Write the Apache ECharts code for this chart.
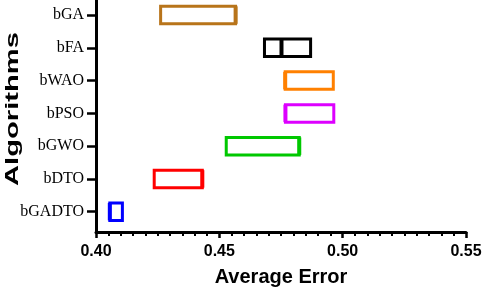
<!DOCTYPE html>
<html>
<head>
<meta charset="utf-8">
<script src="https://cdn.jsdelivr.net/npm/echarts@6/dist/echarts.min.js"></script>
<style>
html,body{margin:0;padding:0;background:#fff;}
#chart{width:484px;height:290px;}
</style>
</head>
<body>
<div id="chart"></div>
<script>
// Data (top to bottom)
const categories = ['bGA', 'bFA', 'bWAO', 'bPSO', 'bGWO', 'bDTO', 'bGADTO'];
const q1Values     = [0.4262, 0.4683, 0.4767, 0.4768, 0.4528, 0.4236, 0.4056];
const medianValues = [0.4566, 0.4752, 0.4767, 0.4768, 0.4824, 0.4431, 0.4056];
const q3Values     = [0.4566, 0.4870, 0.4962, 0.4964, 0.4824, 0.4431, 0.4107];
const boxColors = ['#B8741A', '#000000', '#FF8000', '#DD00FF', '#00C800', '#FF0000', '#0000FF'];
const xMin = 0.40, xMax = 0.55, xStep = 0.05;
const xTitle = 'Average Error';
const yTitle = 'Algorithms';

const catIndex = categories.map((c, i) => i);
const seriesData = categories.map((c, i) => [i, q1Values[i], medianValues[i], q3Values[i]]);

const chart = echarts.init(document.getElementById('chart'), null, {renderer: 'canvas'});
const sans = '"Liberation Sans", Arial, sans-serif';
const serif = '"Liberation Serif", "Times New Roman", serif';

chart.setOption({
  animation: false,
  backgroundColor: '#ffffff',
  grid: {left: 96, right: 18, top: 0, bottom: 58, containLabel: false, outerBoundsMode: 'none'},
  xAxis: {
    type: 'value',
    min: xMin, max: xMax, interval: xStep,
    name: xTitle,
    nameLocation: 'middle',
    nameGap: 35,
    nameMoveOverlap: false,
    nameTextStyle: {fontFamily: sans, fontWeight: 'bold', fontSize: 20, color: '#000'},
    axisLine: {show: true, onZero: false, lineStyle: {color: '#000', width: 3}},
    axisTick: {show: true, length: 6, lineStyle: {color: '#000', width: 2.5}},
    minorTick: {show: true, splitNumber: 10, length: 4, lineStyle: {color: '#000', width: 2}},
    splitLine: {show: false},
    minorSplitLine: {show: false},
    axisLabel: {
      margin: 12, color: '#000', fontFamily: sans, fontWeight: 'bold', fontSize: 16,
      formatter: v => v.toFixed(2)
    }
  },
  yAxis: {
    type: 'value',
    inverse: true,
    min: -0.46, max: 6.62,
    axisLine: {show: true, onZero: false, lineStyle: {color: '#000', width: 3}},
    axisTick: {show: true, customValues: catIndex, length: 9, lineStyle: {color: '#000', width: 2.5}},
    splitLine: {show: false},
    axisLabel: {
      customValues: catIndex,
      margin: 12, color: '#000', fontFamily: serif, fontSize: 16,
      formatter: v => categories[Math.round(v)]
    }
  },
  graphic: [{
    type: 'text',
    x: 13, y: 109,
    rotation: Math.PI / 2,
    scaleX: 1.62,
    style: {
      text: yTitle, fill: '#000', font: 'bold 18px ' + sans,
      textAlign: 'center', textVerticalAlign: 'middle'
    }
  }],
  series: [{
    type: 'custom',
    dimensions: ['cat', 'q1', 'median', 'q3'],
    encode: {y: 0, x: [1, 2, 3]},
    data: seriesData,
    renderItem: function (params, api) {
      const y = api.value(0);
      const p1 = api.coord([api.value(1), y]);
      const pm = api.coord([api.value(2), y]);
      const p3 = api.coord([api.value(3), y]);
      const h = 17.5;
      const color = boxColors[params.dataIndex];
      return {
        type: 'group',
        children: [{
          type: 'rect',
          shape: {x: p1[0], y: p1[1] - h / 2, width: p3[0] - p1[0], height: h},
          style: {fill: '#fff', stroke: color, lineWidth: 3}
        }, {
          type: 'line',
          shape: {x1: pm[0], y1: pm[1] - h / 2, x2: pm[0], y2: pm[1] + h / 2},
          style: {stroke: color, lineWidth: 4}
        }]
      };
    }
  }]
});
</script>
</body>
</html>
